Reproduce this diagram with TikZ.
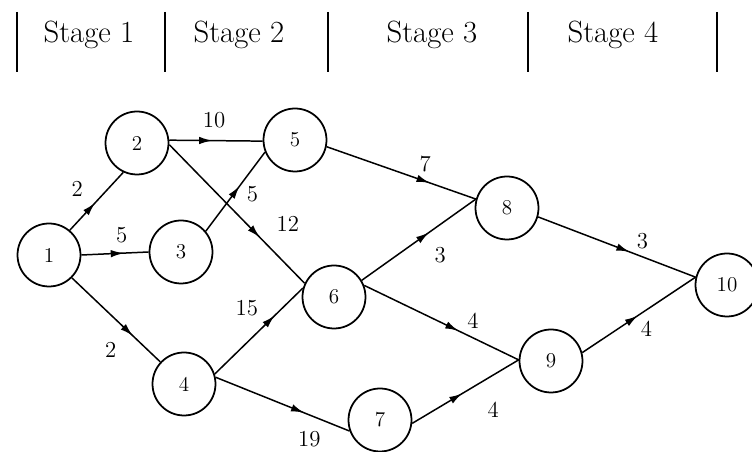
\documentclass[tikz,border=0pt]{standalone}
\usetikzlibrary{decorations.markings,arrows.meta}

\tikzset{
  state/.style={circle, draw, line width=1pt, minimum size=1.26cm, inner sep=0pt,
    font=\fontsize{12}{14}\selectfont},
  flow/.style={line width=0.85pt, postaction={decorate}, decoration={markings,
    mark=at position #1 with {\arrow{Latex[length=2.6mm,width=1.5mm]}}}},
  flow/.default=0.6,
  cost/.style={font=\fontsize{13}{15}\selectfont, inner sep=2pt},
  stagebar/.style={line width=1.3pt},
  stagelabel/.style={font=\fontsize{17.5}{20}\selectfont, anchor=base}
}

\begin{document}
\begin{tikzpicture}[x=0.02cm, y=-0.02cm]
  \useasboundingbox (0,0) rectangle (752,452);

  % Stage header
  \foreach \xbar in {17,165,328,528,717}
    \draw[stagebar] (\xbar,12) -- (\xbar,72);
  \node[stagelabel] (s1) at (89,43) {Stage 1};
  \node[stagelabel] (s2) at (239,43) {Stage 2};
  \node[stagelabel] (s3) at (432,43) {Stage 3};
  \node[stagelabel] (s4) at (613,43) {Stage 4};

  % States
  \node[state] (n1) at (49,255) {1};
  \node[state] (n2) at (137,143) {2};
  \node[state] (n3) at (181,252) {3};
  \node[state] (n4) at (184,384) {4};
  \node[state] (n5) at (295,140) {5};
  \node[state] (n6) at (334,297) {6};
  \node[state] (n7) at (380,420) {7};
  \node[state] (n8) at (507,208) {8};
  \node[state] (n9) at (551,361) {9};
  \node[state] (n10) at (727,285) {10};

  % Arcs with costs
  \draw[flow=0.47] (n1.50) -- node[cost, pos=0.42, above left=3pt] (c12) {2} (n2.245);
  \draw[flow=0.63] (n1.east) -- node[cost, pos=0.6, above=3.5pt] (c13) {5} (n3.west);
  \draw[flow=0.69] (n1.-45) -- node[cost, pos=0.63, below left=4pt] (c14) {2} (n4.137);
  \draw[flow=0.46] (n2.5) -- node[cost, pos=0.48, above=5pt] (c25) {10} (n5.182);
  \draw[flow=0.67] (n2.-3) -- node[cost, pos=0.71, above right=4pt] (c26) {12} (n6.155);
  \draw[flow=0.57] (n3.40) -- node[cost, pos=0.62, below right] (c35) {5} (n5.202);
  \draw[flow=0.68] (n4.18) -- node[cost, pos=0.58, above left=2pt] (c46) {15} (n6.164);
  \draw[flow=0.66] (n4.12) -- node[cost, pos=0.7, below=7pt] (c47) {19} (n7.200);
  \draw[flow=0.69] (n5.-12) -- node[cost, pos=0.66, above=3pt] (c58) {7} (n8.164);
  \draw[flow=0.59] (n6.31) -- node[cost, pos=0.54, below right=4pt] (c68) {3} (n8.164);
  \draw[flow=0.61] (n6.21) -- node[cost, pos=0.64, above right] (c69) {4} (n9.178);
  \draw[flow=0.47] (n7.-6) -- node[cost, pos=0.57, below right=6pt] (c79) {4} (n9.178);
  \draw[flow=0.58] (n8.-16) -- node[cost, pos=0.6, above right] (c810) {3} (n10.166);
  \draw[flow=0.49] (n9.15) -- node[cost, pos=0.48, below right] (c910) {4} (n10.166);
\end{tikzpicture}
\end{document}
